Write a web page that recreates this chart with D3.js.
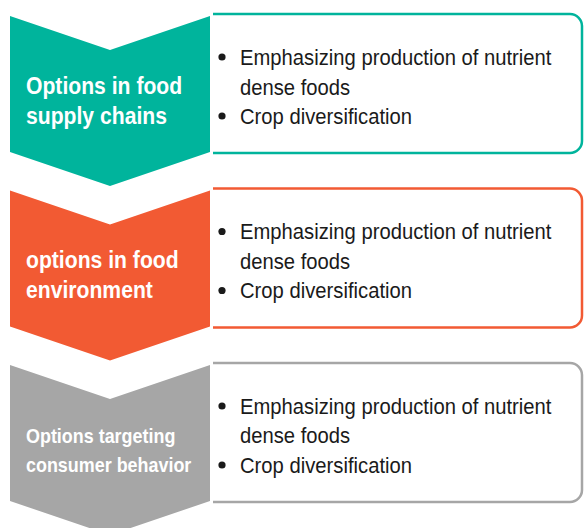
<!DOCTYPE html>
<html>
  <head>
    <meta charset="UTF-8">
    <title>food system options</title>
    <script type="text/javascript" src="https://cdn.jsdelivr.net/npm/d3@7"></script>
    <style>
      body { margin: 0; background: #fff; }
    </style>
  </head>
  <body>
    <svg width="584" height="528"></svg>
    <script>
      // data
      var labels = ["Options in food supply chains", "options in food environment", "Options targeting consumer behavior"];
      var labelLines = [["Options in food", "supply chains"], ["options in food", "environment"], ["Options targeting", "consumer behavior"]];
      var items = [
        [["Emphasizing production of nutrient", "dense foods"], ["Crop diversification"]],
        [["Emphasizing production of nutrient", "dense foods"], ["Crop diversification"]],
        [["Emphasizing production of nutrient", "dense foods"], ["Crop diversification"]]
      ];
      var colors = ["#00b49c", "#f25a33", "#a6a6a6"];

      var svg = d3.select("svg");
      var g = svg.append("g");
      var font = "'Liberation Sans', Arial, sans-serif";
      var squeeze = 0.92; // condensed look

      // vertical band for each chevron (top corner -> bottom side corner)
      var y = d3.scaleBand()
        .domain(labels)
        .range([16, 501])
        .paddingInner(0.2206)
        .paddingOuter(0);

      var color = d3.scaleOrdinal().domain(labels).range(colors);

      var x0 = 10, x1 = 210, notch = 34;
      var bx0 = 213, bx1 = 582, r = 12;

      var rows = g.selectAll(".row")
        .data(labels)
        .enter()
        .append("g")
        .attr("class", "row")
        .attr("transform", function(d){ return "translate(0," + y(d) + ")"; });

      // chevron
      rows.append("path")
        .attr("d", function(d){
          var h = y.bandwidth(), xm = (x0 + x1) / 2;
          var p = d3.path();
          p.moveTo(x0, 0);
          p.lineTo(xm, notch);
          p.lineTo(x1, 0);
          p.lineTo(x1, h);
          p.lineTo(xm, h + notch);
          p.lineTo(x0, h);
          p.closePath();
          return p.toString();
        })
        .attr("fill", function(d){ return color(d); });

      // box on the right, open on the left side
      rows.append("path")
        .attr("d", function(d){
          var t = -2, b = y.bandwidth() + 1;
          var p = d3.path();
          p.moveTo(bx0, t);
          p.lineTo(bx1 - r, t);
          p.arcTo(bx1, t, bx1, t + r, r);
          p.lineTo(bx1, b - r);
          p.arcTo(bx1, b, bx1 - r, b, r);
          p.lineTo(bx0, b);
          return p.toString();
        })
        .attr("fill", "none")
        .attr("stroke", function(d){ return color(d); })
        .attr("stroke-width", 2.5);

      rows.each(function(d, i){
        var row = d3.select(this);
        var small = i === 2;

        // chevron label
        row.append("g")
          .attr("transform", "translate(26,78) scale(" + squeeze + ",1)")
          .append("text")
          .attr("fill", "#fff")
          .attr("font-family", font)
          .attr("font-weight", "bold")
          .attr("font-size", small ? 19.5 : 23)
          .selectAll("tspan")
          .data(labelLines[i])
          .enter()
          .append("tspan")
          .attr("x", 0)
          .attr("dy", function(t, j){ return j === 0 ? 0 : (small ? 29 : 30); })
          .text(function(t){ return t; });

        // bullet list
        var lineY = 49;
        items[i].forEach(function(item){
          row.append("circle")
            .attr("cx", 222)
            .attr("cy", lineY - 8)
            .attr("r", 3.6)
            .attr("fill", "#1a1a1a");
          item.forEach(function(line){
            row.append("g")
              .attr("transform", "translate(240," + lineY + ") scale(" + squeeze + ",1)")
              .append("text")
              .attr("fill", "#1a1a1a")
              .attr("font-family", font)
              .attr("font-size", 22)
              .text(line);
            lineY += 29.5;
          });
        });
      });
    </script>
  </body>
</html>
